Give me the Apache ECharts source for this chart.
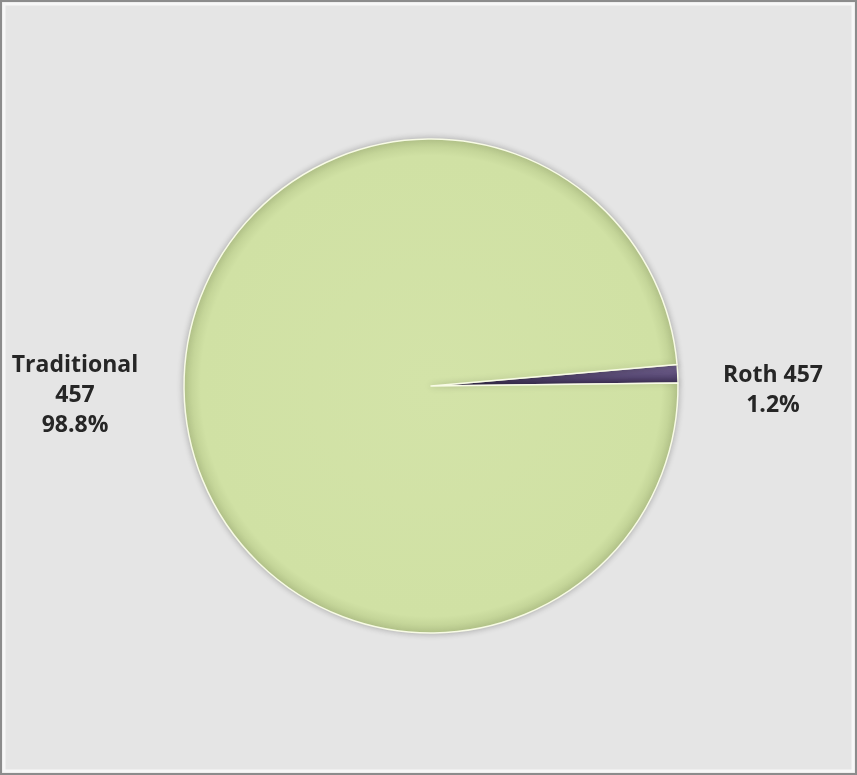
<!DOCTYPE html>
<html><head><meta charset="utf-8">
<script src="https://cdn.jsdelivr.net/npm/echarts@6/dist/echarts.min.js"></script>
<style>html,body{margin:0;padding:0;background:#fff;}#c{width:857px;height:775px;}</style>
</head><body><div id="c"></div>
<script>
const categories = ['Roth 457', 'Traditional\n457'];
const values = [1.2, 98.8];
const percentLabels = ['1.2%', '98.8%'];
const colors = ['#5a4a78', '#d1e2a6'];

const chart = echarts.init(document.getElementById('c'));
chart.setOption({
  backgroundColor: '#e5e5e5',
  animation: false,
  graphic: [
    {type: 'rect', shape: {x: 1, y: 1, width: 855, height: 773}, style: {fill: 'none', stroke: '#8c8c8c', lineWidth: 2}, z: 10},
    {type: 'rect', shape: {x: 4, y: 4, width: 849, height: 767}, style: {fill: 'none', stroke: '#f7f7f7', lineWidth: 3}, z: 10}
  ],
  series: [{
    type: 'pie',
    center: [431, 386],
    radius: [0, 247],
    startAngle: 5,
    clockwise: true,
    data: categories.map((c, i) => ({
      name: c, value: values[i],
      itemStyle: {
        color: i === 0 ? {type: 'linear', x: 0, y: 0, x2: 0, y2: 1, colorStops: [{offset: 0, color: '#7a6a98'}, {offset: 1, color: '#3e3058'}]}
          : {type: 'radial', x: 0.5, y: 0.5, r: 0.5, colorStops: [{offset: 0, color: '#d3e3a8'}, {offset: 0.93, color: '#d0e1a4'}, {offset: 1, color: '#b9ca8e'}]}
      },
      label: {formatter: c + '\n' + percentLabels[i]}
    })),
    itemStyle: {borderColor: '#f8fbe6', borderWidth: 1.5, shadowColor: 'rgba(0,0,0,0.25)', shadowBlur: 6},
    label: {
      show: true,
      fontFamily: 'Open Sans',
      fontWeight: 'bold',
      fontSize: 23,
      lineHeight: 30,
      color: '#262626',
      align: 'center',
      overflow: 'none',
      edgeDistance: 0
    },
    labelLine: {show: false},
    labelLayout: function (p) {
      if (p.dataIndex === 0) return {x: 773, y: 390, align: 'center', verticalAlign: 'middle'};
      return {x: 75, y: 395, align: 'center', verticalAlign: 'middle'};
    }
  }]
});
</script></body></html>
